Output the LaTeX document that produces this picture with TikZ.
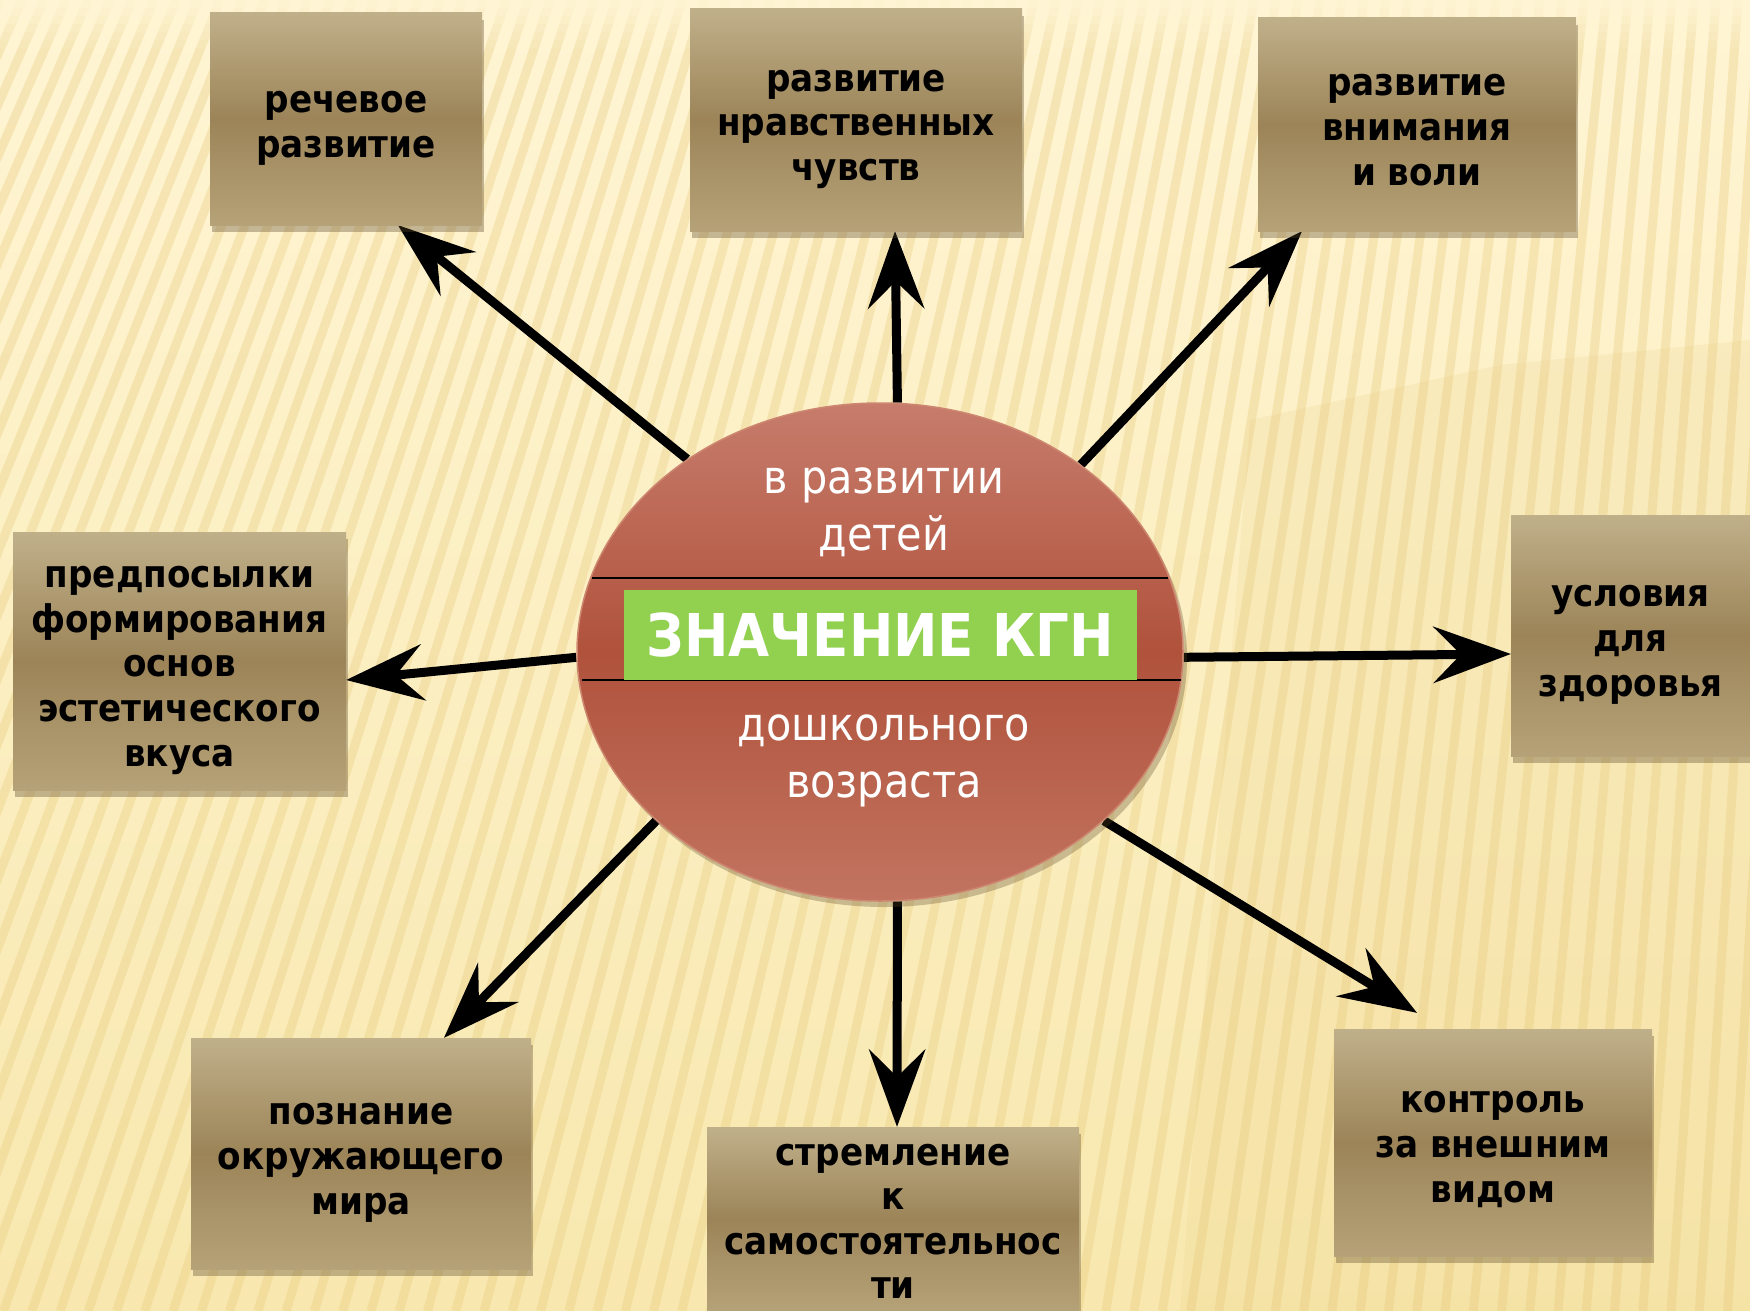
\documentclass[tikz,border=0pt]{standalone}
\usepackage{fontspec}
\setmainfont{DejaVu Sans Condensed}
\usetikzlibrary{shapes.geometric,arrows.meta,shadows,calc}
\definecolor{bgTop}{RGB}{255,245,212}
\definecolor{bgBot}{RGB}{248,232,175}
\definecolor{stripeC}{RGB}{230,200,120}
\definecolor{boxTop}{RGB}{192,176,138}
\definecolor{boxMid}{RGB}{156,132,88}
\definecolor{boxBot}{RGB}{182,162,120}
\definecolor{ellTop}{RGB}{199,124,108}
\definecolor{ellMid}{RGB}{176,82,60}
\definecolor{ellBot}{RGB}{194,116,96}
\definecolor{ellEdge}{RGB}{205,135,112}
\definecolor{kgreen}{RGB}{146,208,80}
\definecolor{shadowC}{RGB}{90,70,40}
\newcommand\boxtxt[2][7pt]{\raisebox{-#1}[\height][\depth]{\begin{tabular}{@{}c@{}}#2\end{tabular}}}
\pgfdeclarelayer{back}
\pgfdeclarelayer{mid}
\pgfsetlayers{back,mid,main}
\tikzset{
  box/.style={rectangle, inner sep=0pt, top color=boxTop, bottom color=boxBot, middle color=boxMid,
    font=\bfseries\fontsize{38}{44.6}\selectfont, text=black,
    drop shadow={shadow xshift=2pt, shadow yshift=-7pt, opacity=0.35, fill=shadowC}},
  conn/.style={line width=9pt, draw=black, -{Stealth[length=78pt,width=57pt,inset=28pt,line width=0pt]}},
  stripeline/.style={line width=9pt, draw=stripeC, opacity=0.32},
  elltext/.style={text=white, align=center, font=\fontsize{46}{57}\selectfont, inner sep=0pt},
}
\begin{document}
\begin{tikzpicture}[x=1pt,y=-1pt]
\useasboundingbox (0,0) rectangle (1750,1311);
\clip (0,0) rectangle (1750,1311);
\begin{pgfonlayer}{back}
\shade[top color=bgTop, bottom color=bgBot] (0,0) rectangle (1750,1311);
\foreach \i in {0,...,86}{
  \pgfmathsetmacro\xa{\i*22}
  \pgfmathsetmacro\xb{\xa-(0.45-0.38*\xa/1750)*1311}
  \draw[stripeline] (\xa,0) -- (\xb,1311);
}
\foreach \k/\op in {0/0.9,8/0.75,16/0.6,24/0.45,32/0.3,40/0.15}{
  \fill[bgTop, opacity=\op] (0,\k) rectangle (1750,\k+8);
}
\fill[stripeC, opacity=0.15] (1180,1311) -- (1250,420) -- (1500,365) -- (1750,340) -- (1750,1311) -- cycle;
\end{pgfonlayer}

% boxes
\node[box, minimum width=272pt, minimum height=212pt] (b1) at (346,119) {\boxtxt{речевое\\развитие}};
\node[box, minimum width=332pt, minimum height=222pt] (b2) at (856,120) {\boxtxt{развитие\\нравственных\\чувств}};
\node[box, minimum width=318pt, minimum height=213pt] (b3) at (1417,124.5) {\boxtxt{развитие\\внимания\\и воли}};
\node[box, minimum width=333pt, minimum height=258pt] (b4) at (179.5,661) {\boxtxt{предпосылки\\формирования\\основ\\эстетического\\вкуса}};
\node[box, minimum width=239pt, minimum height=241pt] (b5) at (1630.5,635.5) {\boxtxt{условия\\для\\здоровья}};
\node[box, minimum width=340pt, minimum height=231pt] (b6) at (361,1153.5) {\boxtxt{познание\\окружающего\\мира}};
\node[box, minimum width=372pt, minimum height=184pt] (b7) at (893,1219) {\boxtxt[4pt]{стремление\\к\\самостоятельнос\\ти}};
\node[box, minimum width=318pt, minimum height=227pt] (b8) at (1493,1142.5) {\boxtxt[6pt]{контроль\\за внешним\\видом}};

% central ellipse
\node[ellipse, minimum width=606pt, minimum height=498pt, inner sep=0pt,
  top color=ellTop, bottom color=ellBot, middle color=ellMid, draw=ellEdge, line width=1.5pt,
  drop shadow={shadow xshift=4pt, shadow yshift=-6pt, opacity=0.3, fill=shadowC}] (ell) at (880,652) {};
\draw[line width=2pt] (592,578) -- (1168,578);
\draw[line width=2pt] (582,680) -- (1181,680);
\node[fill=kgreen, minimum width=513pt, minimum height=90pt, inner sep=0pt, text=white,
  font=\bfseries\fontsize{59}{59}\selectfont] (title) at (880.5,635) {ЗНАЧЕНИЕ КГН};
\node[elltext] (up) at (884,512) {в развитии\\детей};
\node[elltext] (down) at (884,761) {дошкольного\\возраста};

\begin{pgfonlayer}{mid}
\draw[conn] (ell.135.8) -- (398,0 |- b1.south);
\draw[conn] (ell.86.6) -- (895,0 |- b2.south);
\draw[conn] (ell.43.8) -- (1302,0 |- b3.south);
\draw[conn] (ell.181.7) -- (b4.east |- 0,680);
\draw[conn] (ell.-1.7) -- (b5.west |- 0,654);
\draw[conn] (ell.217.4) -- (444,0 |- b6.north);
\draw[conn] (ell.-86) -- (897,0 |- b7.north);
\draw[conn] (ell.-37.2) -- ($(1417,0 |- b8.north)+(0,-16)$);
\end{pgfonlayer}
\end{tikzpicture}
\end{document}
